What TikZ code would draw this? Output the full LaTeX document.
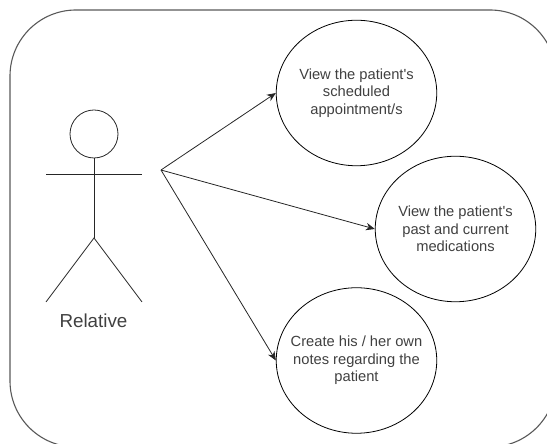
\documentclass[tikz,border=0pt]{standalone}
\usepackage{fontspec}
\setmainfont{Liberation Sans}[Ligatures=TeXOff]
\usetikzlibrary{shapes.geometric, arrows.meta}
\definecolor{inkgray}{gray}{0.25}
\tikzset{
    usecase/.style={draw=black, line width=0.8pt, ellipse, minimum width=160.5pt, minimum height=145.5pt, inner xsep=-12pt, inner ysep=0pt,
        align=center, text=inkgray, font=\fontsize{14.7}{17.6}\selectfont},
    stickline/.style={draw=black!85, line width=0.8pt},
    assoc/.style={draw=black!85, line width=0.8pt, -{Stealth[length=9pt,width=7.5pt]}}
}

\begin{document}
\begin{tikzpicture}[x=1pt,y=1pt]
    \useasboundingbox (0,0) rectangle (547,444);
    \clip (0,0) rectangle (547,444);
    % Frame
    \draw[draw=black!65, line width=1.1pt, rounded corners=66pt] (10,-3) rectangle (556,434);
    % Use cases
    \node[usecase] (appointments) at (356.5,351) {View the patient's\\scheduled\\appointment/s};
    \node[usecase] (medications) at (455.5,215) {View the patient's\\past and current\\medications};
    \node[usecase] (notes) at (356.5,83.5) {Create his / her own\\notes regarding the\\patient};
    % Actor
    \node[stickline, circle, minimum size=48pt, inner sep=0pt] (head) at (94,310) {};
    \coordinate (armleft) at (46,270);
    \coordinate (armright) at (142,270);
    \coordinate (hip) at (94,206);
    \coordinate (footleft) at (46,142);
    \coordinate (footright) at (142,142);
    \draw[stickline] (armleft) -- (armright);
    \draw[stickline] (head) -- (hip);
    \draw[stickline] (footleft) -- (hip) -- (footright);
    \node[text=inkgray, font=\fontsize{18.8}{22}\selectfont] (relative) at (93.5,123) {Relative};
    % Associations
    \coordinate (source) at (161,274);
    \draw[assoc] (source) -- (appointments.west);
    \draw[assoc] (source) -- (medications.west);
    \draw[assoc] (source) -- (notes.west);
\end{tikzpicture}
\end{document}
